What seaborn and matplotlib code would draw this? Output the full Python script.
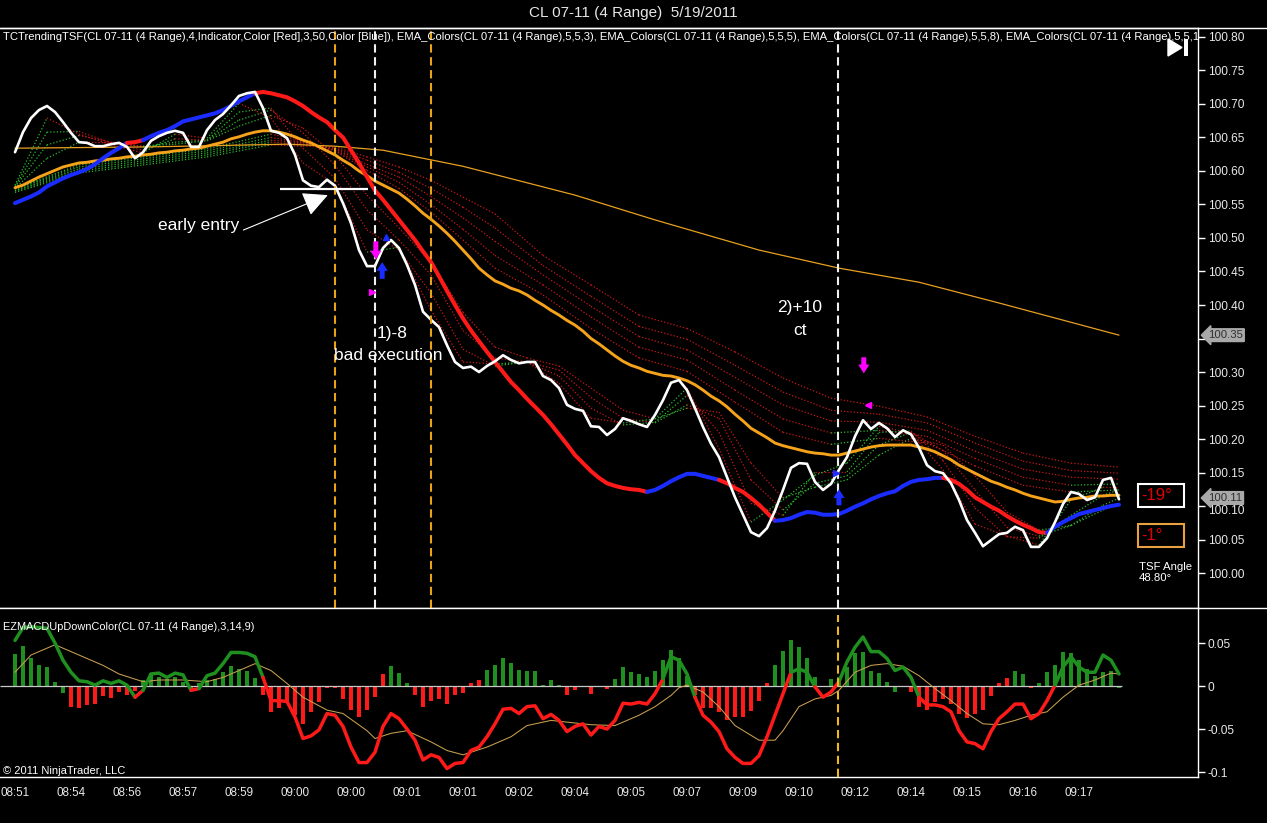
import numpy as np
import matplotlib
matplotlib.use("Agg")
import matplotlib.pyplot as plt
import matplotlib.transforms as mtransforms
from matplotlib.patches import Rectangle, Polygon
from matplotlib.lines import Line2D
import seaborn as sns

# ------------------------------------------------------------------ data
time_labels = ["08:51", "08:54", "08:56", "08:57", "08:59", "09:00", "09:00", "09:01", "09:01", "09:02",
               "09:04", "09:05", "09:07", "09:09", "09:10", "09:12", "09:14", "09:15", "09:16", "09:17"]
time_tick_bars = [0, 7, 14, 21, 28, 35, 42, 49, 56, 63, 70, 77, 84, 91, 98, 105, 112, 119, 126, 133]

close = [100.628, 100.658, 100.679, 100.691, 100.697, 100.688, 100.673, 100.657, 100.643, 100.642,
         100.637, 100.637, 100.640, 100.642, 100.636, 100.619, 100.628, 100.645, 100.652, 100.657,
         100.660, 100.657, 100.636, 100.636, 100.661, 100.676, 100.685, 100.698, 100.712, 100.716,
         100.718, 100.694, 100.660, 100.657, 100.649, 100.624, 100.586, 100.578, 100.576, 100.587,
         100.578, 100.552, 100.522, 100.482, 100.458, 100.458, 100.485, 100.497, 100.485, 100.460,
         100.430, 100.390, 100.378, 100.367, 100.340, 100.315, 100.306, 100.308, 100.300, 100.309,
         100.316, 100.325, 100.318, 100.313, 100.315, 100.315, 100.294, 100.288, 100.276, 100.251,
         100.245, 100.242, 100.219, 100.218, 100.206, 100.215, 100.231, 100.227, 100.222, 100.218,
         100.236, 100.258, 100.284, 100.288, 100.273, 100.246, 100.218, 100.193, 100.173, 100.143,
         100.113, 100.087, 100.061, 100.055, 100.067, 100.093, 100.124, 100.157, 100.164, 100.163,
         100.136, 100.124, 100.133, 100.154, 100.173, 100.204, 100.228, 100.215, 100.224, 100.216,
         100.203, 100.213, 100.207, 100.187, 100.161, 100.152, 100.149, 100.134, 100.109, 100.079,
         100.060, 100.040, 100.049, 100.058, 100.060, 100.069, 100.064, 100.039, 100.039, 100.052,
         100.076, 100.103, 100.121, 100.118, 100.109, 100.113, 100.139, 100.142, 100.110]

tsf = [100.552, 100.557, 100.562, 100.568, 100.577, 100.583, 100.589, 100.594, 100.598, 100.603,
       100.610, 100.619, 100.627, 100.634, 100.642, 100.643, 100.646, 100.652, 100.657, 100.661,
       100.667, 100.674, 100.677, 100.680, 100.683, 100.686, 100.691, 100.697, 100.704, 100.710,
       100.716, 100.718, 100.716, 100.713, 100.710, 100.704, 100.697, 100.688, 100.680, 100.673,
       100.661, 100.650, 100.631, 100.612, 100.591, 100.571, 100.557, 100.542, 100.527, 100.512,
       100.497, 100.480, 100.464, 100.443, 100.421, 100.400, 100.380, 100.362, 100.346, 100.330,
       100.315, 100.300, 100.285, 100.273, 100.260, 100.248, 100.236, 100.222, 100.207, 100.192,
       100.176, 100.164, 100.152, 100.142, 100.134, 100.130, 100.127, 100.125, 100.124, 100.121,
       100.124, 100.130, 100.137, 100.143, 100.148, 100.148, 100.145, 100.142, 100.139, 100.134,
       100.127, 100.121, 100.112, 100.102, 100.090, 100.078, 100.079, 100.082, 100.087, 100.091,
       100.090, 100.087, 100.087, 100.088, 100.093, 100.099, 100.104, 100.110, 100.115, 100.119,
       100.122, 100.130, 100.136, 100.139, 100.140, 100.142, 100.142, 100.139, 100.133, 100.124,
       100.113, 100.106, 100.099, 100.093, 100.085, 100.078, 100.072, 100.067, 100.061, 100.060,
       100.069, 100.076, 100.082, 100.088, 100.091, 100.094, 100.097, 100.100, 100.102]
tsf_color_runs = [("B", 14), ("R", 2), ("B", 14), ("R", 49), ("B", 9), ("R", 7), ("B", 21), ("R", 13), ("B", 10)]

ema_mid = [100.575, 100.579, 100.585, 100.591, 100.596, 100.601, 100.606, 100.609, 100.612, 100.613,
           100.615, 100.616, 100.618, 100.619, 100.621, 100.622, 100.624, 100.625, 100.627, 100.628,
           100.630, 100.631, 100.633, 100.634, 100.637, 100.640, 100.643, 100.648, 100.651, 100.655,
           100.658, 100.660, 100.660, 100.658, 100.655, 100.651, 100.646, 100.642, 100.636, 100.630,
           100.624, 100.616, 100.609, 100.600, 100.593, 100.585, 100.579, 100.573, 100.567, 100.558,
           100.548, 100.537, 100.528, 100.518, 100.507, 100.495, 100.482, 100.469, 100.455, 100.445,
           100.436, 100.431, 100.425, 100.421, 100.415, 100.407, 100.400, 100.392, 100.385, 100.377,
           100.370, 100.361, 100.350, 100.342, 100.333, 100.324, 100.316, 100.310, 100.306, 100.301,
           100.298, 100.295, 100.294, 100.291, 100.287, 100.281, 100.273, 100.264, 100.257, 100.248,
           100.237, 100.227, 100.216, 100.209, 100.202, 100.194, 100.190, 100.187, 100.184, 100.181,
           100.179, 100.178, 100.176, 100.176, 100.179, 100.182, 100.185, 100.188, 100.190, 100.191,
           100.191, 100.191, 100.191, 100.188, 100.185, 100.181, 100.175, 100.169, 100.161, 100.155,
           100.149, 100.143, 100.137, 100.133, 100.128, 100.124, 100.119, 100.115, 100.112, 100.109,
           100.106, 100.107, 100.110, 100.112, 100.113, 100.115, 100.115, 100.116, 100.116]

ema_long_bars = [0, 17, 34, 40, 46, 56, 70, 80, 93, 103, 113, 123, 138]
ema_long = [100.634, 100.636, 100.640, 100.637, 100.631, 100.607, 100.564, 100.527, 100.482,
            100.455, 100.434, 100.403, 100.355]

fast_bars = [0, 4, 8, 12, 16, 20, 24, 28, 32, 36, 40, 44, 48, 52, 56, 60, 64, 68, 72, 76, 80, 84,
             88, 92, 96, 100, 104, 108, 112, 116, 120, 124, 128, 132, 136, 138]
fast1 = [100.579, 100.679, 100.655, 100.639, 100.627, 100.655, 100.649, 100.701, 100.679, 100.612,
         100.580, 100.479, 100.486, 100.392, 100.315, 100.312, 100.315, 100.283, 100.231, 100.224,
         100.230, 100.276, 100.186, 100.076, 100.109, 100.146, 100.164, 100.219, 100.209, 100.154,
         100.073, 100.055, 100.042, 100.109, 100.128, 100.127]
fast2 = [100.577, 100.658, 100.659, 100.642, 100.631, 100.648, 100.646, 100.688, 100.694, 100.634,
         100.589, 100.512, 100.482, 100.418, 100.334, 100.309, 100.315, 100.294, 100.246, 100.221,
         100.225, 100.265, 100.210, 100.104, 100.086, 100.151, 100.151, 100.210, 100.212, 100.168,
         100.097, 100.054, 100.052, 100.086, 100.116, 100.124]
fast3 = [100.576, 100.639, 100.653, 100.643, 100.636, 100.643, 100.646, 100.676, 100.691, 100.657,
         100.609, 100.542, 100.497, 100.445, 100.362, 100.321, 100.315, 100.303, 100.262, 100.231,
         100.224, 100.251, 100.231, 100.139, 100.094, 100.134, 100.145, 100.191, 100.210, 100.183,
         100.124, 100.068, 100.055, 100.071, 100.101, 100.112]
fast4 = [100.574, 100.619, 100.643, 100.642, 100.637, 100.640, 100.645, 100.667, 100.683, 100.664,
         100.624, 100.564, 100.515, 100.464, 100.389, 100.337, 100.321, 100.309, 100.276, 100.243,
         100.230, 100.246, 100.240, 100.164, 100.112, 100.128, 100.139, 100.176, 100.201, 100.191,
         100.145, 100.091, 100.064, 100.071, 100.094, 100.104]

slow_bars = [0, 8, 16, 24, 32, 36, 40, 44, 48, 52, 56, 60, 66, 72, 78, 84, 90, 96, 102, 108, 114,
             120, 126, 132, 138]
slow1 = [100.574, 100.609, 100.621, 100.633, 100.655, 100.645, 100.630, 100.601, 100.574, 100.539,
         100.497, 100.455, 100.415, 100.365, 100.321, 100.301, 100.255, 100.210, 100.192, 100.201,
         100.194, 100.160, 100.131, 100.121, 100.124]
slow2 = [100.573, 100.606, 100.618, 100.630, 100.650, 100.643, 100.631, 100.606, 100.583, 100.550,
         100.513, 100.474, 100.430, 100.382, 100.337, 100.318, 100.273, 100.230, 100.209, 100.213,
         100.204, 100.171, 100.143, 100.131, 100.133]
slow3 = [100.571, 100.603, 100.615, 100.627, 100.646, 100.642, 100.633, 100.610, 100.591, 100.562,
         100.530, 100.495, 100.445, 100.398, 100.353, 100.333, 100.292, 100.251, 100.227, 100.225,
         100.213, 100.182, 100.155, 100.143, 100.140]
slow4 = [100.570, 100.600, 100.612, 100.624, 100.643, 100.640, 100.634, 100.616, 100.598, 100.574,
         100.546, 100.515, 100.459, 100.413, 100.368, 100.349, 100.310, 100.270, 100.243, 100.237,
         100.224, 100.194, 100.167, 100.153, 100.149]
slow5 = [100.568, 100.597, 100.609, 100.621, 100.639, 100.637, 100.636, 100.621, 100.606, 100.586,
         100.561, 100.536, 100.474, 100.430, 100.385, 100.365, 100.330, 100.291, 100.261, 100.249,
         100.233, 100.204, 100.179, 100.164, 100.158]

macd = [0.053, 0.068, 0.069, 0.068, 0.067, 0.050, 0.030, 0.016, 0.006, 0.005,
        0.001, 0.006, 0.003, 0.006, 0.001, -0.013, -0.005, 0.014, 0.015, 0.010,
        0.015, 0.013, -0.005, -0.003, 0.012, 0.015, 0.026, 0.039, 0.039, 0.038,
        0.034, 0.010, -0.017, -0.017, -0.018, -0.036, -0.061, -0.058, -0.051, -0.032,
        -0.034, -0.047, -0.071, -0.089, -0.089, -0.077, -0.047, -0.032, -0.038, -0.050,
        -0.063, -0.086, -0.080, -0.083, -0.096, -0.090, -0.089, -0.075, -0.071, -0.059,
        -0.044, -0.027, -0.026, -0.032, -0.024, -0.023, -0.038, -0.033, -0.040, -0.053,
        -0.047, -0.044, -0.057, -0.047, -0.050, -0.040, -0.020, -0.021, -0.019, -0.021,
        -0.009, 0.0085, 0.034, 0.030, 0.014, -0.013, -0.034, -0.042, -0.053, -0.073,
        -0.083, -0.090, -0.090, -0.081, -0.059, -0.034, -0.009, 0.016, 0.020, 0.016,
        -0.001, -0.013, -0.007, 0.005, 0.028, 0.045, 0.057, 0.040, 0.040, 0.032,
        0.018, 0.022, 0.010, -0.013, -0.022, -0.022, -0.024, -0.030, -0.052, -0.065,
        -0.067, -0.073, -0.053, -0.038, -0.030, -0.021, -0.021, -0.038, -0.032, -0.017,
        0.001, 0.022, 0.034, 0.022, 0.016, 0.016, 0.036, 0.030, 0.014]
macd_color_runs = [("G", 15), ("R", 1), ("G", 6), ("R", 1), ("G", 8), ("R", 50), ("G", 4), ("R", 12),
                   ("G", 3), ("R", 3), ("G", 10), ("R", 17), ("G", 9)]

hist = [0.037, 0.046, 0.032, 0.025, 0.022, 0.005, -0.008, -0.024, -0.026, -0.022,
        -0.021, -0.012, -0.014, -0.007, -0.011, -0.006, 0.007, 0.015, 0.011, 0.008,
        0.010, 0.005, -0.004, 0.003, 0.007, 0.008, 0.016, 0.023, 0.020, 0.018,
        0.009, -0.011, -0.030, -0.026, -0.020, -0.034, -0.044, -0.030, -0.019, -0.002,
        -0.002, -0.015, -0.028, -0.036, -0.028, -0.013, 0.014, 0.023, 0.015, 0.003,
        -0.011, -0.024, -0.017, -0.015, -0.021, -0.011, -0.008, 0.004, 0.007, 0.019,
        0.024, 0.032, 0.027, 0.019, 0.018, 0.017, 0.001, 0.007, 0.001, -0.011,
        -0.005, -0.001, -0.009, 0.000, -0.003, 0.008, 0.022, 0.016, 0.014, 0.010,
        0.017, 0.030, 0.042, 0.032, 0.012, -0.010, -0.026, -0.026, -0.030, -0.039,
        -0.036, -0.036, -0.029, -0.017, 0.003, 0.025, 0.041, 0.053, 0.045, 0.033,
        0.010, 0.000, 0.008, 0.010, 0.022, 0.038, 0.040, 0.017, 0.015, 0.005,
        -0.007, -0.001, -0.007, -0.024, -0.028, -0.019, -0.015, -0.021, -0.032, -0.037,
        -0.032, -0.028, -0.012, 0.004, 0.009, 0.017, 0.014, -0.002, 0.003, 0.016,
        0.025, 0.040, 0.038, 0.030, 0.020, 0.012, 0.016, 0.018, -0.002]
hist_color_runs = [("G", 7), ("R", 9), ("G", 6), ("R", 1), ("G", 8), ("R", 16), ("G", 3), ("R", 9),
                   ("G", 10), ("R", 6), ("G", 10), ("R", 10), ("G", 17), ("R", 13), ("G", 2), ("R", 1),
                   ("G", 11)]

signal_bars = [0, 2, 5, 8, 11, 13, 16, 18, 21, 24, 26, 29, 30, 32, 34, 36, 39, 41, 44, 45, 47, 49,
               52, 54, 56, 59, 62, 64, 67, 70, 72, 75, 78, 80, 82, 83, 84, 86, 88, 90, 93, 95, 96,
               98, 100, 102, 103, 105, 107, 109, 111, 113, 115, 117, 119, 121, 123, 125, 127, 129,
               131, 133, 135, 137, 138]
signal = [0.016, 0.036, 0.048, 0.036, 0.024, 0.014, 0.005, 0.007, 0.007, 0.005, 0.010, 0.022, 0.026,
          0.018, 0.003, -0.013, -0.028, -0.032, -0.052, -0.061, -0.055, -0.052, -0.065, -0.075,
          -0.080, -0.071, -0.059, -0.046, -0.040, -0.043, -0.045, -0.046, -0.034, -0.024, -0.011,
          -0.002, 0.001, -0.007, -0.024, -0.046, -0.063, -0.063, -0.052, -0.024, -0.015, -0.011,
          -0.005, 0.016, 0.024, 0.026, 0.023, 0.012, -0.003, -0.017, -0.032, -0.044, -0.045,
          -0.040, -0.034, -0.030, -0.013, 0.001, 0.007, 0.015, 0.014]

# vertical marker lines drawn by the trader (bar position, colour key)
vline_bars = [40.0, 45.0, 52.0, 102.9]
vline_kinds = ["O", "W", "O", "W"]
macd_vline_bars = [102.9]

# trade signal arrows: bar, tail price, tip price, colour key
arrow_bars = [45.1, 45.9, 106.1, 103.0]
arrow_from = [100.495, 100.439, 100.322, 100.101]
arrow_to = [100.468, 100.464, 100.298, 100.125]
arrow_kinds = ["M", "B", "M", "B"]
tick_marker_bars = [46.4, 44.6, 106.6, 102.6]
tick_marker_price = [100.501, 100.419, 100.251, 100.150]
tick_marker_shape = ["^", ">", "<", ">"]
tick_marker_kinds = ["B", "M", "M", "B"]

early_entry_level = 100.573
early_entry_span = [33.1, 44.1]
last_price = 100.11
long_ema_last = 100.35
tsf_angle_values = ["-19°", "-1°"]
tsf_angle_text = "48.80°"

# ------------------------------------------------------------------ style
sns.set_theme(style="dark", rc={
    "axes.facecolor": "black", "figure.facecolor": "black", "savefig.facecolor": "black",
    "axes.edgecolor": "white", "text.color": "white",
    "xtick.color": "white", "ytick.color": "white", "axes.grid": False})
plt.rcParams["font.family"] = ["Liberation Sans", "DejaVu Sans"]

W, H = 1267, 823
def fx(px):
    return px / W
def fy(py):
    return 1 - py / H

COL = {"R": "#FF1A1A", "B": "#1A2CFF", "G": "#1F8F1F", "O": "#E8A317", "W": "#F0F0F0",
       "M": "#FF00FF"}
RIB_RED = "#C81818"
RIB_GREEN = "#2CB82C"

fig = plt.figure(figsize=(W / 100, H / 100), dpi=100)
ax = fig.add_axes([0, fy(608), fx(1198), (608 - 28) / H])
ax2 = fig.add_axes([0, fy(777), fx(1198), (777 - 608) / H])

bars = np.arange(len(close))
XL = (-1.875, 147.875)

def draw_runs(a, xs, ys, runs, lw, z):
    start = 0
    for code, n in runs:
        stop = min(start + n, len(xs) - 1)
        a.plot(xs[start:stop + 1], ys[start:stop + 1], color=COL[code], lw=lw,
               solid_capstyle="round", solid_joinstyle="round", zorder=z)
        start += n

def ribbon(a, xs, ys, z):
    for i in range(len(xs) - 1):
        c = RIB_GREEN if ys[i + 1] > ys[i] else RIB_RED
        a.plot(xs[i:i + 2], ys[i:i + 2], color=c, lw=0.9, ls=(0, (1, 1.6)), zorder=z)

# ------------------------------------------------------------------ upper panel
for line in (slow5, slow4, slow3, slow2, slow1):
    ribbon(ax, slow_bars, line, 2)
for line in (fast4, fast3, fast2, fast1):
    ribbon(ax, fast_bars, line, 2.2)

sns.lineplot(x=ema_long_bars, y=ema_long, ax=ax, color="#E8A020", linewidth=0.9, zorder=3)
sns.lineplot(x=bars, y=ema_mid, ax=ax, color="#F5A31A", linewidth=2.1, zorder=4)
draw_runs(ax, bars, tsf, tsf_color_runs, 2.9, 5)
sns.lineplot(x=bars, y=close, ax=ax, color="white", linewidth=1.9, zorder=6)

for b, k in zip(vline_bars, vline_kinds):
    ax.axvline(b, color=COL[k], lw=1.5, ls=(0, (4, 2.2)), zorder=8)

ax.hlines(early_entry_level, early_entry_span[0], early_entry_span[1], color="white", lw=1.6, zorder=9)
ax.annotate("early entry", xy=(39.1, 100.564), xytext=(22.9, 100.518), color="white", fontsize=12.5,
            ha="center", va="center", zorder=9,
            arrowprops=dict(arrowstyle="-|>,head_length=1.1,head_width=0.55", color="white", lw=0.8,
                            relpos=(1.0, 0.1), shrinkA=1, shrinkB=0, mutation_scale=14))
ax.text(47.1, 100.358, "1)-8", color="white", fontsize=12.5, ha="center", va="center", zorder=9)
ax.text(46.7, 100.325, "bad execution", color="white", fontsize=12.5, ha="center", va="center", zorder=9)
ax.text(98.1, 100.397, "2)+10", color="white", fontsize=12.5, ha="center", va="center", zorder=9)
ax.text(98.1, 100.362, "ct", color="white", fontsize=12.5, ha="center", va="center", zorder=9)

for b, p0, p1, k in zip(arrow_bars, arrow_from, arrow_to, arrow_kinds):
    ax.annotate("", xy=(b, p1), xytext=(b, p0), zorder=10,
                arrowprops=dict(arrowstyle="simple,head_length=0.7,head_width=0.9,tail_width=0.4",
                                color=COL[k], lw=0, shrinkA=0, shrinkB=0, mutation_scale=9))
for b, p, m, k in zip(tick_marker_bars, tick_marker_price, tick_marker_shape, tick_marker_kinds):
    ax.plot([b], [p], marker=m, color=COL[k], markersize=5, ls="none", zorder=10)

ax.set_xlim(*XL)
ax.set_ylim(99.9478, 100.8134)
yt = [round(100 + 0.05 * i, 2) for i in range(17)]
ax.set_yticks(yt)
ax.set_yticklabels(["" if abs(t - long_ema_last) < 1e-6 else f"{t:.2f}" for t in yt])
ax.yaxis.tick_right()
ax.tick_params(axis="y", colors="white", labelcolor="#E8E8E8", length=5, width=1, labelsize=8.6,
               pad=2, direction="out", right=True, left=False)
ax.tick_params(axis="x", bottom=False, labelbottom=False)
ax.set_xlabel("")
ax.set_ylabel("")
for s in ("top", "right", "bottom"):
    ax.spines[s].set_color("white")
    ax.spines[s].set_linewidth(1)
ax.spines["left"].set_visible(False)

# the 100.10 label sits just below the last-price tag; nudge it down a little
for lab, t in zip(ax.get_yticklabels(), yt):
    if abs(t - 100.10) < 1e-6:
        lab.set_transform(lab.get_transform() + mtransforms.ScaledTranslation(0, -3 / 100, fig.dpi_scale_trans))

ind_text = ("TCTrendingTSF(CL 07-11 (4 Range),4,Indicator,Color [Red],3,50,Color [Blue]), "
            "EMA_Colors(CL 07-11 (4 Range),5,5,3), EMA_Colors(CL 07-11 (4 Range),5,5,5), "
            "EMA_Colors(CL 07-11 (4 Range),5,5,8), EMA_Colors(CL 07-11 (4 Range),5,5,10)")
ax.text(3 / 1198, 1 - 9 / 580, ind_text, transform=ax.transAxes, fontsize=8.15, color="white",
        ha="left", va="center", clip_on=True, zorder=11)

# price tags on the axis
ax.text(1208 / 1198, long_ema_last + 0.005, f"{long_ema_last:.2f}", transform=ax.get_yaxis_transform(),
        fontsize=8.2, color="#303030", ha="left", va="center", clip_on=False, zorder=12,
        bbox=dict(boxstyle="larrow,pad=0.12", fc="#A9A9A9", ec="#A9A9A9"))
ax.text(1208 / 1198, last_price + 0.002, f"{last_price:.2f}", transform=ax.get_yaxis_transform(),
        fontsize=8.2, color="#303030", ha="left", va="center", clip_on=False, zorder=12,
        bbox=dict(boxstyle="larrow,pad=0.12", fc="#A9A9A9", ec="#A9A9A9"))

# ------------------------------------------------------------------ lower panel
hist_colors = []
for code, n in hist_color_runs:
    hist_colors += [COL[code]] * n
ax2.bar(bars, hist, width=0.42, color=hist_colors, linewidth=0, zorder=2)
ax2.hlines(0, XL[0], bars[-1] + 0.4, color="#C8C8C8", lw=0.9, zorder=3)
sns.lineplot(x=signal_bars, y=signal, ax=ax2, color="#C9A050", linewidth=0.75, zorder=4)
draw_runs(ax2, bars, macd, macd_color_runs, 2.5, 5)
for b in macd_vline_bars:
    ax2.axvline(b, ymax=0.96, color="#F0B820", lw=1.5, ls=(0, (4, 2.2)), zorder=8)

ax2.set_xlim(*XL)
ax2.set_ylim(-0.1058, 0.0907)
ax2.set_yticks([0.05, 0, -0.05, -0.1])
ax2.set_yticklabels(["0.05", "0", "-0.05", "-0.1"])
ax2.yaxis.tick_right()
ax2.tick_params(axis="y", colors="white", labelcolor="#E8E8E8", length=5, width=1, labelsize=8.6,
                pad=2, direction="out", right=True, left=False)
ax2.set_xticks(time_tick_bars)
ax2.set_xticklabels(time_labels)
ax2.tick_params(axis="x", colors="white", labelcolor="#E8E8E8", length=5, width=1, labelsize=8.4,
                pad=2.5, direction="out")
ax2.set_xlabel("")
ax2.set_ylabel("")
for s in ("top", "right", "bottom"):
    ax2.spines[s].set_color("white")
    ax2.spines[s].set_linewidth(1)
ax2.spines["left"].set_visible(False)

# ------------------------------------------------------------------ figure furniture
fig.text(fx(633), fy(13), "CL 07-11 (4 Range)  5/19/2011", ha="center", va="center",
         color="#E6E6E6", fontsize=11)
fig.add_artist(Line2D([0, 1], [fy(28), fy(28)], color="white", lw=1, transform=fig.transFigure))
fig.add_artist(Line2D([fx(1198), 1], [fy(608), fy(608)], color="white", lw=1, transform=fig.transFigure))

fig.text(fx(3), fy(627), "EZMACDUpDownColor(CL 07-11 (4 Range),3,14,9)", ha="left", va="center",
         color="white", fontsize=7.95)
fig.text(fx(3), fy(771), "© 2011 NinjaTrader, LLC", ha="left", va="center", color="white", fontsize=8)

# play-to-end icon
fig.add_artist(Polygon([[fx(1168), fy(39)], [fx(1168), fy(56)], [fx(1182), fy(47.5)]], closed=True,
                       fc="white", ec="white", transform=fig.transFigure))
fig.add_artist(Rectangle((fx(1184), fy(56)), 4 / W, 17 / H, fc="white", ec="none", transform=fig.transFigure))

# TSF angle boxes
fig.add_artist(Rectangle((fx(1138), fy(507)), 46 / W, 23 / H, fc="black", ec="white", lw=1.5,
                         transform=fig.transFigure))
fig.text(fx(1141), fy(495.5), tsf_angle_values[0], ha="left", va="center", color="#E00000", fontsize=12)
fig.add_artist(Rectangle((fx(1138), fy(547)), 46 / W, 23 / H, fc="black", ec="#E8A040", lw=1.5,
                         transform=fig.transFigure))
fig.text(fx(1141), fy(535.5), tsf_angle_values[1], ha="left", va="center", color="#E00000", fontsize=12)
fig.text(fx(1139), fy(567), "TSF Angle", ha="left", va="center", color="white", fontsize=8.2)
fig.text(fx(1139), fy(578), tsf_angle_text, ha="left", va="center", color="white", fontsize=8.2)

fig.savefig("out.png", dpi=100, facecolor="black")
